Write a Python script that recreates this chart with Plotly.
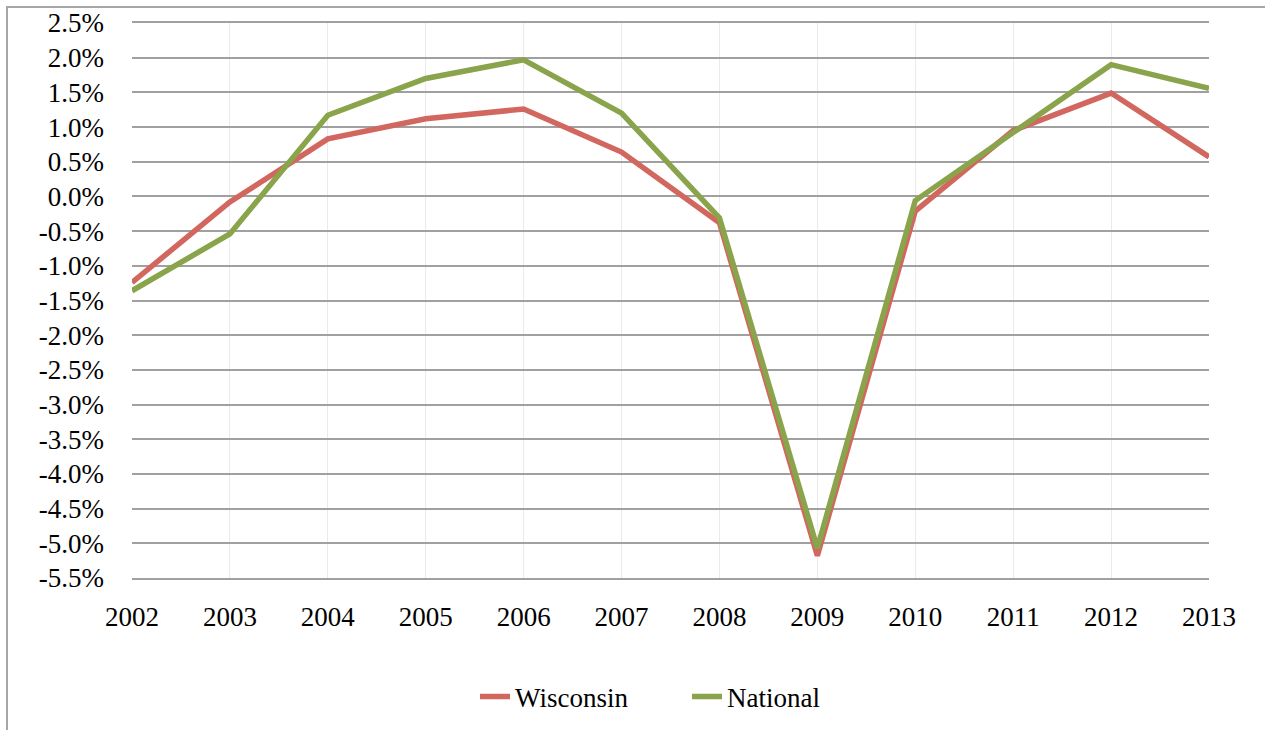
import plotly.graph_objects as go

years = ["2002", "2003", "2004", "2005", "2006", "2007", "2008", "2009", "2010", "2011", "2012", "2013"]
wisconsin = [-1.24, -0.08, 0.83, 1.12, 1.26, 0.64, -0.38, -5.18, -0.21, 0.95, 1.49, 0.57]
national = [-1.36, -0.54, 1.17, 1.70, 1.97, 1.20, -0.31, -5.07, -0.06, 0.93, 1.90, 1.56]
y_tickvals = [2.5, 2.0, 1.5, 1.0, 0.5, 0.0, -0.5, -1.0, -1.5, -2.0, -2.5, -3.0, -3.5, -4.0, -4.5, -5.0, -5.5]
y_ticktext = ["2.5%", "2.0%", "1.5%", "1.0%", "0.5%", "0.0%", "-0.5%", "-1.0%", "-1.5%", "-2.0%",
              "-2.5%", "-3.0%", "-3.5%", "-4.0%", "-4.5%", "-5.0%", "-5.5%"]

FONT = "Liberation Serif"

fig = go.Figure()
fig.add_trace(go.Scatter(x=years, y=wisconsin, name="Wisconsin", mode="lines",
                         line=dict(color="#d2675f", width=5.5)))
fig.add_trace(go.Scatter(x=years, y=national, name="National", mode="lines",
                         line=dict(color="#89a44a", width=5.5)))

L, R, T, B = 132, 1209, 23, 578
W, H = 1265, 730

def px(x):
    return (x - L) / (R - L)

def py(y):
    return (B - y) / (B - T)

fig.update_layout(
    width=W, height=H,
    margin=dict(l=L, r=W - R, t=T, b=H - B, autoexpand=False),
    paper_bgcolor="white", plot_bgcolor="white",
    font=dict(family=FONT, size=27, color="#000000"),
    showlegend=True,
    legend=dict(orientation="h", x=px(475), xanchor="left", y=py(697), yanchor="middle",
                font=dict(family=FONT, size=27), tracegroupgap=0,
                entrywidth=167, entrywidthmode="pixels"),
    xaxis=dict(type="category", range=[0, 11], showgrid=True, gridcolor="#ebebeb", gridwidth=1,
               showline=True, linecolor="#a0a0a0", linewidth=2, mirror=True, automargin=False,
               ticks="", ticklabelstandoff=14, zeroline=False),
    yaxis=dict(range=[-5.5, 2.5], tickmode="array", tickvals=y_tickvals, ticktext=y_ticktext,
               showgrid=True, gridcolor="#a0a0a0", gridwidth=2, zeroline=False, automargin=False,
               showline=False, ticks="", ticklabelstandoff=27),
    shapes=[dict(type="rect", xref="paper", yref="paper",
                 x0=px(7), x1=px(W + 10), y0=py(H + 10), y1=py(7),
                 line=dict(color="#a6a6a6", width=2), fillcolor="rgba(0,0,0,0)", layer="below")],
)

fig.write_html("out.html", config={"displayModeBar": False},
               post_script="document.body.style.margin='0';document.body.style.padding='0';")
